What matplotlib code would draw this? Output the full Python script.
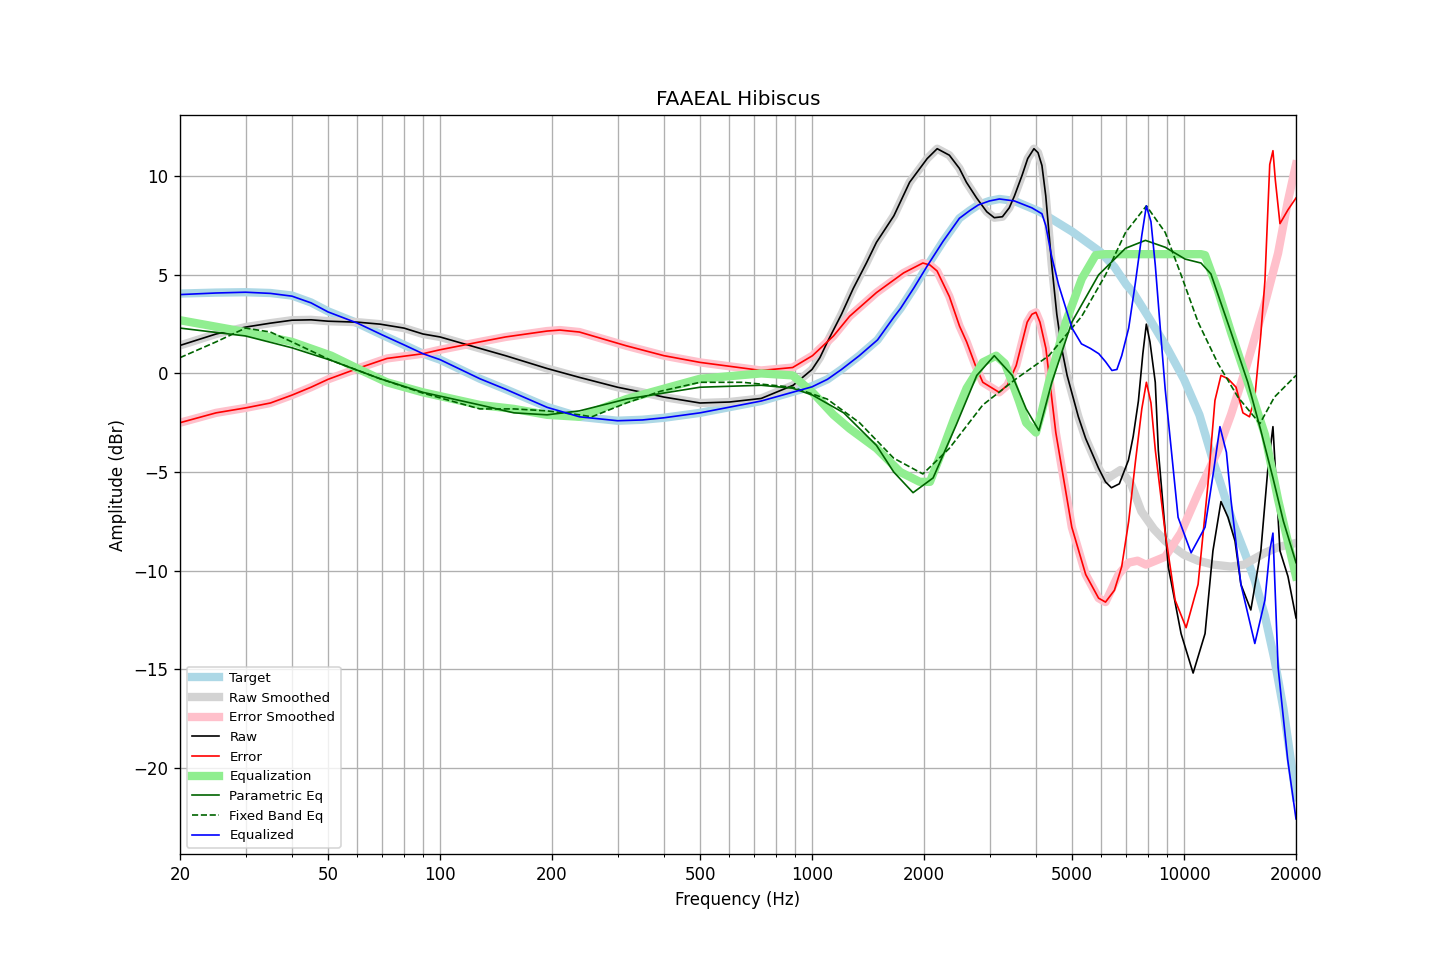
import matplotlib
matplotlib.use("Agg")
import matplotlib.pyplot as plt
from matplotlib import ticker

# ---------------- data (frequency in Hz, amplitude in dBr) ----------------
target_f = [20, 25, 30, 35, 40, 45, 50, 60, 70, 80, 90, 100, 128, 150, 194, 237, 300, 350, 400, 500,
            730, 1000, 1100, 1200, 1340, 1500, 1660, 1730, 1880, 2040, 2250, 2490, 2650, 2800, 3000,
            3190, 3500, 4100, 5000, 5970, 6500, 7000, 7300, 8000, 9000, 10000, 11000, 12000, 12500,
            13500, 14500, 15500, 16500, 17500, 18500, 19500, 20000]
target_db = [4.05, 4.1, 4.12, 4.08, 3.95, 3.6, 3.15, 2.55, 1.95, 1.45, 1.0, 0.7, -0.27, -0.8, -1.7, -2.2,
             -2.4, -2.35, -2.25, -2.0, -1.4, -0.65, -0.3, 0.2, 0.9, 1.7, 2.86, 3.3, 4.35, 5.45, 6.7, 7.87,
             8.25, 8.55, 8.75, 8.85, 8.75, 8.2, 7.2, 6.15, 5.4, 4.5, 4.1, 2.9, 1.3, -0.3, -2.1, -4.5,
             -5.5, -7.5, -9.0, -10.5, -12.3, -14.5, -17.0, -20.0, -21.5]

raw_f = [20, 25, 30, 35, 40, 45, 50, 60, 69, 80, 90, 100, 128, 150, 194, 237, 300, 350, 400, 500, 600,
         730, 890, 1000, 1050, 1100, 1200, 1290, 1400, 1490, 1660, 1830, 2040, 2170, 2340, 2490, 2600,
         2770, 2950, 3090, 3250, 3390, 3500, 3670, 3800, 3950, 4050, 4150, 4250, 4410, 4550, 4690, 4850,
         4990, 5200, 5440, 5890, 6150, 6380, 6700, 7090, 7300, 7540, 7750, 7920, 8100, 8370, 8530,
         9070, 9820, 10580, 11390, 11960, 12570, 13130, 13710, 14220, 15120, 16090, 16810, 17340,
         18110, 19030, 20000]
raw_db = [1.42, 2.0, 2.35, 2.55, 2.7, 2.72, 2.65, 2.6, 2.5, 2.3, 2.0, 1.85, 1.27, 0.9, 0.25, -0.2, -0.7,
          -0.96, -1.2, -1.5, -1.45, -1.27, -0.6, 0.2, 0.8, 1.6, 3.0, 4.3, 5.6, 6.65, 8.0, 9.7, 10.9, 11.4,
          11.07, 10.4, 9.7, 8.9, 8.2, 7.9, 7.95, 8.4, 9.0, 10.05, 10.9, 11.4, 11.2, 10.55, 9.0, 5.5, 3.0,
          1.27, -0.1, -0.96, -2.2, -3.3, -4.8, -5.5, -5.8, -5.6, -4.4, -3.2, -1.4, 1.0, 2.5, 1.6, -0.45,
          -3.9, -9.8, -13.2, -15.2, -13.2, -9.0, -6.5, -7.3, -8.5, -10.7, -12.0, -9.0, -4.8, -2.7, -9.0,
          -10.3, -12.4]

raw_smooth_f = [20, 25, 30, 35, 40, 45, 50, 60, 69, 80, 90, 100, 128, 150, 194, 237, 300, 350, 400, 500,
                600, 730, 890, 1000, 1050, 1100, 1200, 1290, 1400, 1490, 1660, 1830, 2040, 2170, 2340,
                2490, 2600, 2770, 2950, 3090, 3250, 3390, 3500, 3670, 3800, 3950, 4050, 4150, 4250, 4410,
                4550, 4690, 4850, 4990, 5200, 5440, 5890, 6150, 6500, 6750, 7200, 7680, 8300, 8900,
                10000, 10900, 12000, 13370, 14500, 16500, 18000, 20000]
raw_smooth_db = [1.42, 2.0, 2.35, 2.55, 2.7, 2.72, 2.65, 2.6, 2.5, 2.3, 2.0, 1.85, 1.27, 0.9, 0.25, -0.2,
                 -0.7, -0.96, -1.2, -1.5, -1.45, -1.27, -0.6, 0.2, 0.8, 1.6, 3.0, 4.3, 5.6, 6.65, 8.0, 9.7,
                 10.9, 11.4, 11.07, 10.4, 9.7, 8.9, 8.2, 7.9, 7.95, 8.4, 9.0, 10.05, 10.9, 11.4, 11.2,
                 10.55, 9.0, 5.5, 3.0, 1.27, -0.1, -0.96, -2.2, -3.3, -4.8, -5.4, -5.1, -4.9, -5.6, -7.0,
                 -7.9, -8.5, -9.2, -9.5, -9.7, -9.8, -9.7, -9.1, -8.8, -8.6]

error_f = [20, 25, 30, 35, 40, 45, 50, 60, 72, 90, 100, 128, 150, 194, 210, 237, 317, 400, 500, 730, 887,
           1003, 1142, 1262, 1490, 1763, 1986, 2075, 2168, 2340, 2492, 2604, 2750, 2878, 3185, 3350, 3539,
           3788, 3900, 3999, 4100, 4253, 4522, 4993, 5441, 5893, 6151, 6500, 6800, 7100, 7400, 7700,
           7923, 8150, 8374, 8903, 9464, 10130, 10910, 11600, 12110, 12570, 13130, 13800, 14400, 15000,
           15500, 16090, 16500, 17000, 17340, 17600, 18110, 19030, 20000]
error_db = [-2.5, -2.0, -1.75, -1.5, -1.1, -0.7, -0.3, 0.25, 0.76, 1.0, 1.2, 1.6, 1.85, 2.15, 2.2, 2.1,
            1.4, 0.9, 0.56, 0.15, 0.3, 0.9, 1.9, 2.9, 4.1, 5.1, 5.6, 5.5, 5.2, 3.9, 2.4, 1.6, 0.4, -0.45,
            -0.96, -0.6, 0.4, 2.6, 3.0, 3.1, 2.6, 1.27, -3.0, -7.8, -10.2, -11.4, -11.6, -11.0, -9.8,
            -7.5, -4.5, -1.8, -0.45, -1.5, -3.9, -8.1, -11.5, -12.9, -10.7, -5.6, -1.37, -0.1, -0.27,
            -0.7, -2.0, -2.2, -1.2, 2.0, 4.7, 10.6, 11.3, 9.8, 7.6, 8.3, 8.9]

error_smooth_f = [20, 25, 30, 35, 40, 45, 50, 60, 72, 90, 100, 128, 150, 194, 210, 237, 317, 400, 500, 730,
                  887, 1003, 1142, 1262, 1490, 1763, 1986, 2075, 2168, 2340, 2492, 2604, 2750, 2878, 3185,
                  3350, 3539, 3788, 3900, 3999, 4100, 4253, 4522, 4993, 5441, 5893, 6151, 6668, 7092,
                  7500, 7900, 8900, 9800, 10900, 12340, 13370, 14600, 16500, 17900, 19000, 20000]
error_smooth_db = [-2.5, -2.0, -1.75, -1.5, -1.1, -0.7, -0.3, 0.25, 0.76, 1.0, 1.2, 1.6, 1.85, 2.15, 2.2,
                   2.1, 1.4, 0.9, 0.56, 0.15, 0.3, 0.9, 1.9, 2.9, 4.1, 5.1, 5.6, 5.5, 5.2, 3.9, 2.4, 1.6,
                   0.4, -0.45, -0.96, -0.6, 0.4, 2.6, 3.0, 3.1, 2.6, 1.27, -3.0, -7.8, -10.2, -11.4,
                   -11.6, -10.2, -9.6, -9.5, -9.7, -9.3, -8.1, -6.1, -3.9, -2.1, 0.15, 3.55, 6.1, 8.7,
                   10.6]

eq_f = [20, 30, 40, 51, 60, 72, 90, 128, 158, 194, 237, 317, 500, 730, 887, 1003, 1142, 1262, 1490, 1726,
        1948, 2075, 2251, 2420, 2604, 2878, 3126, 3300, 3452, 3600, 3764, 3999, 4150, 4332, 4810, 5310,
        5785, 6151, 7000, 8000, 9000, 10000, 11110, 11390, 11960, 12340, 13370, 14840, 16500, 17900,
        20000]
eq_db = [2.7, 2.1, 1.6, 0.9, 0.25, -0.45, -0.96, -1.6, -1.8, -2.1, -2.2, -1.3, -0.27, 0.0, -0.1, -0.96,
         -2.1, -2.8, -3.8, -5.0, -5.5, -5.5, -3.8, -2.2, -0.75, 0.56, 0.9, 0.5, -0.45, -1.4, -2.5, -3.0,
         -1.9, -0.45, 2.6, 4.8, 6.0, 6.05, 6.05, 6.05, 6.05, 6.05, 6.05, 6.0, 4.9, 4.2, 2.1, -0.45,
         -3.1, -6.4, -10.3]

peq_f = [20, 30, 40, 51, 69, 90, 128, 158, 194, 237, 317, 500, 730, 887, 1003, 1217, 1490, 1658, 1869,
         2116, 2443, 2773, 3090, 3452, 3764, 4074, 4412, 4993, 5893, 6962, 7875, 8903, 10070, 11110,
         11810, 13370, 14840, 16090, 17340, 18500, 20000]
peq_db = [2.3, 1.9, 1.3, 0.66, -0.27, -0.96, -1.6, -2.0, -2.1, -1.9, -1.3, -0.7, -0.6, -0.75, -1.1,
          -2.0, -3.65, -5.0, -6.05, -5.3, -2.6, -0.1, 0.9, -0.1, -1.8, -2.9, -0.45, 2.6, 5.0, 6.35, 6.75,
          6.4, 5.8, 5.6, 5.05, 2.1, -0.45, -2.9, -5.3, -7.5, -9.6]

fbeq_f = [20, 25, 30, 35, 40, 51, 69, 90, 128, 158, 194, 237, 256, 317, 392, 500, 650, 887, 1098, 1342,
          1658, 1986, 2340, 2878, 3539, 4332, 5310, 6151, 6962, 7923, 8903, 9820, 10910, 12340, 13960,
          15990, 17500, 20000]
fbeq_db = [0.8, 1.6, 2.3, 2.1, 1.6, 0.66, -0.27, -1.0, -1.8, -1.8, -1.9, -2.1, -2.2, -1.5, -0.9, -0.45,
           -0.45, -0.7, -1.3, -2.5, -4.3, -5.1, -3.8, -1.6, -0.27, 0.9, 2.9, 5.0, 7.15, 8.5, 7.15, 5.0,
           2.6, 0.5, -1.2, -2.55, -1.2, -0.1]

equalized_f = [20, 25, 30, 35, 40, 45, 50, 60, 70, 80, 90, 100, 128, 150, 194, 237, 300, 350, 400, 500,
               730, 1000, 1100, 1200, 1340, 1500, 1660, 1730, 1880, 2040, 2250, 2490, 2650, 2800, 3000,
               3190, 3500, 3900, 4150, 4250, 4400, 4600, 5000, 5300, 5600, 5900, 6150, 6400, 6600, 6800,
               7100, 7400, 7700, 7920, 8150, 8370, 8700, 8900, 9640, 10450, 11390, 12000, 12490, 13000,
               13370, 14220, 15500, 16500, 17000, 17340, 17900, 19000, 20000]
equalized_db = [4.0, 4.08, 4.12, 4.06, 3.92, 3.58, 3.12, 2.55, 1.95, 1.45, 1.0, 0.7, -0.27, -0.8, -1.72,
                -2.2, -2.4, -2.36, -2.25, -2.0, -1.4, -0.68, -0.3, 0.2, 0.9, 1.7, 2.86, 3.3, 4.35, 5.45,
                6.7, 7.87, 8.25, 8.55, 8.75, 8.85, 8.75, 8.4, 8.1, 7.5, 6.0, 4.5, 2.3, 1.5, 1.27, 1.0,
                0.6, 0.15, 0.2, 0.9, 2.3, 4.6, 7.0, 8.5, 7.7, 5.5, 1.5, -0.8, -7.3, -9.1, -7.8, -5.0,
                -2.7, -4.0, -6.4, -10.7, -13.7, -11.5, -9.0, -8.1, -14.9, -19.6, -22.6]

x_ticks = [20, 50, 100, 200, 500, 1000, 2000, 5000, 10000, 20000]
y_ticks = [-20, -15, -10, -5, 0, 5, 10]

# ---------------- plot ----------------
fig, ax = plt.subplots(figsize=(12, 8), dpi=120)

ax.plot(target_f, target_db, color='lightblue', linewidth=5, label='Target')
ax.plot(raw_smooth_f, raw_smooth_db, color='lightgrey', linewidth=5, label='Raw Smoothed')
ax.plot(error_smooth_f, error_smooth_db, color='pink', linewidth=5, label='Error Smoothed')
ax.plot(raw_f, raw_db, color='black', linewidth=1, label='Raw')
ax.plot(error_f, error_db, color='red', linewidth=1, label='Error')
ax.plot(eq_f, eq_db, color='lightgreen', linewidth=5, label='Equalization')
ax.plot(peq_f, peq_db, color='darkgreen', linewidth=1, label='Parametric Eq')
ax.plot(fbeq_f, fbeq_db, color='darkgreen', linewidth=1, linestyle='--', label='Fixed Band Eq')
ax.plot(equalized_f, equalized_db, color='blue', linewidth=1, label='Equalized')

ax.set_xscale('log')
ax.set_xlim(20, 20000)
ax.set_ylim(-24.4, 13.1)
ax.set_xticks(x_ticks)
ax.xaxis.set_major_formatter(ticker.FuncFormatter(lambda v, p: f'{v:.0f}'))
ax.xaxis.set_minor_formatter(ticker.NullFormatter())
ax.set_yticks(y_ticks)
ax.grid(True, which='major')
ax.grid(True, which='minor')

ax.set_title('FAAEAL Hibiscus')
ax.set_xlabel('Frequency (Hz)')
ax.set_ylabel('Amplitude (dBr)')
ax.legend(fontsize=8, loc='lower left')

fig.savefig('out.png', dpi=120)
